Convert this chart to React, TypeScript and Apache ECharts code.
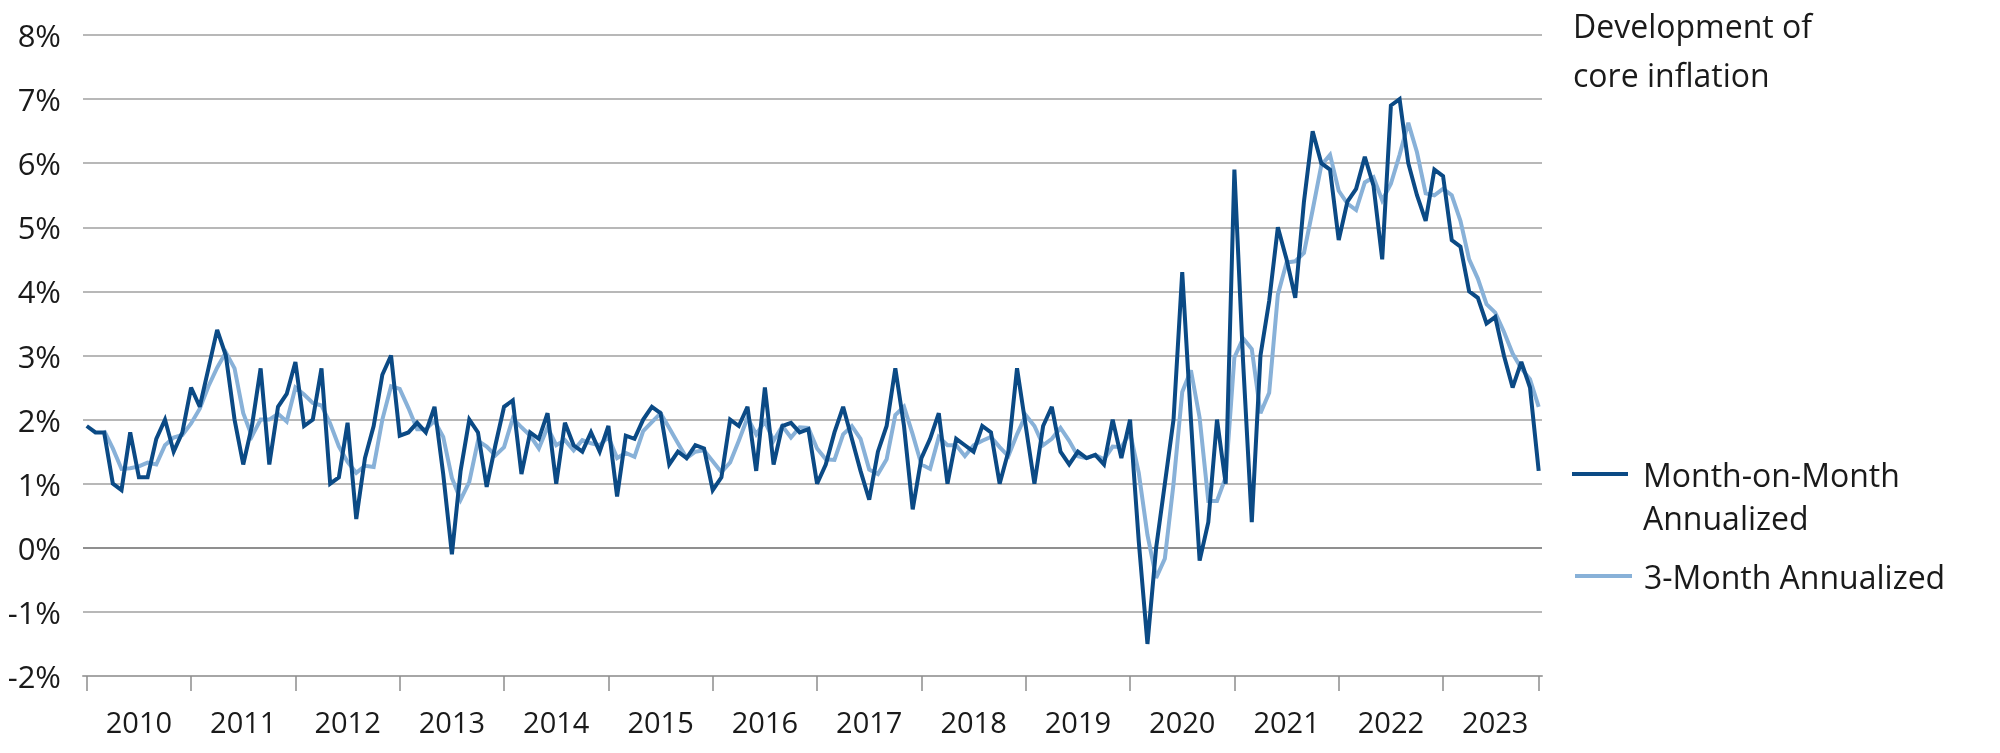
import React, { useEffect, useRef } from "react";
import * as echarts from "echarts";

const YEARS = ["2010", "2011", "2012", "2013", "2014", "2015", "2016", "2017", "2018", "2019", "2020", "2021", "2022", "2023"];

// Month-on-Month Annualized, Jan 2010 .. Dec 2023 (%)
const MOM = [
  1.9, 1.8, 1.8, 1.0, 0.9, 1.8, 1.1, 1.1, 1.7, 2.0, 1.5, 1.8,
  2.5, 2.2, 2.8, 3.4, 3.0, 2.0, 1.3, 1.9, 2.8, 1.3, 2.2, 2.4,
  2.9, 1.9, 2.0, 2.8, 1.0, 1.1, 1.95, 0.45, 1.4, 1.9, 2.7, 3.0,
  1.75, 1.8, 1.95, 1.8, 2.2, 1.15, -0.1, 1.2, 2.0, 1.8, 0.95, 1.6,
  2.2, 2.3, 1.15, 1.8, 1.7, 2.1, 1.0, 1.95, 1.6, 1.5, 1.8, 1.5,
  1.9, 0.8, 1.75, 1.7, 2.0, 2.2, 2.1, 1.3, 1.5, 1.4, 1.6, 1.55,
  0.9, 1.1, 2.0, 1.9, 2.2, 1.2, 2.5, 1.3, 1.9, 1.95, 1.8, 1.85,
  1.0, 1.3, 1.8, 2.2, 1.7, 1.2, 0.75, 1.5, 1.9, 2.8, 1.9, 0.6,
  1.4, 1.7, 2.1, 1.0, 1.7, 1.6, 1.5, 1.9, 1.8, 1.0, 1.5, 2.8,
  1.9, 1.0, 1.9, 2.2, 1.5, 1.3, 1.5, 1.4, 1.45, 1.3, 2.0, 1.4,
  2.0, 0.1, -1.5, 0.0, 1.0, 2.0, 4.3, 2.0, -0.2, 0.4, 2.0, 1.0,
  5.9, 2.9, 0.4, 3.0, 3.85, 5.0, 4.5, 3.9, 5.4, 6.5, 6.0, 5.9,
  4.8, 5.4, 5.6, 6.1, 5.65, 4.5, 6.9, 7.0, 6.0, 5.5, 5.1, 5.9,
  5.8, 4.8, 4.7, 4.0, 3.9, 3.5, 3.6, 3.0, 2.5, 2.9, 2.5, 1.2,
];

// 3-Month Annualized, Jan 2010 .. Dec 2023 (%)
const THREE_M = [
  null, null, 1.83, 1.55, 1.23, 1.24, 1.27, 1.33, 1.3, 1.6, 1.72, 1.76,
  1.94, 2.17, 2.52, 2.81, 3.05, 2.8, 2.1, 1.74, 2.0, 2.0, 2.09, 1.97,
  2.5, 2.39, 2.26, 2.22, 1.94, 1.58, 1.34, 1.17, 1.28, 1.26, 2.0, 2.52,
  2.48, 2.18, 1.85, 1.85, 1.98, 1.73, 1.09, 0.75, 1.03, 1.67, 1.58, 1.44,
  1.57, 2.02, 1.88, 1.75, 1.55, 1.88, 1.6, 1.68, 1.52, 1.68, 1.63, 1.6,
  1.73, 1.4, 1.48, 1.42, 1.82, 1.96, 2.1, 1.87, 1.63, 1.4, 1.5, 1.52,
  1.35, 1.18, 1.33, 1.67, 2.03, 1.77, 1.97, 1.67, 1.9, 1.72, 1.88, 1.87,
  1.55, 1.38, 1.37, 1.77, 1.9, 1.7, 1.22, 1.15, 1.38, 2.07, 2.2, 1.77,
  1.3, 1.23, 1.73, 1.6, 1.6, 1.43, 1.6, 1.67, 1.73, 1.57, 1.43, 1.77,
  2.07, 1.9, 1.6, 1.7, 1.87, 1.67, 1.43, 1.4, 1.45, 1.38, 1.58, 1.57,
  1.8, 1.17, 0.2, -0.47, -0.17, 1.0, 2.43, 2.77, 2.03, 0.73, 0.73, 1.1,
  2.97, 3.27, 3.1, 2.1, 2.42, 3.95, 4.45, 4.47, 4.6, 5.27, 5.97, 6.13,
  5.57, 5.37, 5.27, 5.7, 5.78, 5.42, 5.68, 6.13, 6.63, 6.17, 5.53, 5.5,
  5.6, 5.5, 5.1, 4.5, 4.2, 3.8, 3.67, 3.37, 3.03, 2.8, 2.63, 2.2,
];

const TITLE = "Development of\ncore inflation";
const LEGEND_MOM = "Month-on-Month\nAnnualized";
const LEGEND_3M = "3-Month Annualized";

const DARK = "#0b4a85";
const LIGHT = "#88b1d8";
const TEXT = "#1a1a1a";
const FONT = "'Open Sans', sans-serif";

export default function App() {
  const ref = useRef<HTMLDivElement>(null);

  useEffect(() => {
    const chart = echarts.init(ref.current as HTMLDivElement, null, { renderer: "svg" });
    const last = MOM.length - 1;
    const tickPos = YEARS.map((_, k) => k * 12).concat([last]);
    const labelPos = YEARS.map((_, k) => k * 12 + 6);
    const g = "#a0a0a0";
    const gridColors = [g, g, "#6a6a6a", g, g, g, g, g, g, g, g];

    chart.setOption({
      animation: false,
      grid: { left: 83, right: 458, top: 35, bottom: 77 },
      xAxis: {
        type: "value",
        min: -0.43,
        max: last + 0.38,
        axisLine: { show: true, onZero: false, lineStyle: { color: "#a6a6a6", width: 2 } },
        axisTick: {
          show: true,
          length: 15,
          customValues: tickPos,
          lineStyle: { color: "#8c8c8c", width: 1.5 },
        },
        axisLabel: {
          customValues: labelPos,
          formatter: (v: number) => YEARS[Math.floor(v / 12)],
          fontSize: 29,
          fontFamily: FONT,
          color: TEXT,
          margin: 31,
        },
        splitLine: { show: false },
      },
      yAxis: {
        type: "value",
        min: -2,
        max: 8,
        interval: 1,
        axisLine: { show: false },
        axisTick: { show: false },
        axisLabel: {
          formatter: "{value}%",
          fontSize: 31,
          fontFamily: FONT,
          color: TEXT,
          margin: 22,
          padding: [7, 0, 0, 0],
        },
        splitLine: { show: true, lineStyle: { color: gridColors, width: 1.5 } },
      },
      series: [
        {
          name: "3-Month Annualized",
          type: "line",
          data: THREE_M.map((v, i) => [i, v]),
          symbol: "none",
          showSymbol: false,
          connectNulls: false,
          lineStyle: { color: LIGHT, width: 4, join: "miter", miterLimit: 3 },
          z: 2,
        },
        {
          name: "Month-on-Month Annualized",
          type: "line",
          data: MOM.map((v, i) => [i, v]),
          symbol: "none",
          showSymbol: false,
          lineStyle: { color: DARK, width: 4, join: "miter", miterLimit: 3 },
          z: 3,
        },
      ],
      graphic: [
        {
          type: "text",
          x: 1573,
          y: 50,
          style: {
            text: TITLE,
            fontSize: 32,
            fontFamily: FONT,
            lineHeight: 49,
            fill: TEXT,
            align: "left",
            verticalAlign: "middle",
          },
        },
        {
          type: "line",
          shape: { x1: 1572, y1: 474, x2: 1628, y2: 474 },
          style: { stroke: DARK, lineWidth: 4 },
        },
        {
          type: "text",
          x: 1643,
          y: 496,
          style: {
            text: LEGEND_MOM,
            fontSize: 32,
            fontFamily: FONT,
            lineHeight: 43,
            fill: TEXT,
            align: "left",
            verticalAlign: "middle",
          },
        },
        {
          type: "line",
          shape: { x1: 1575, y1: 576, x2: 1632, y2: 576 },
          style: { stroke: LIGHT, lineWidth: 4 },
        },
        {
          type: "text",
          x: 1644,
          y: 576,
          style: {
            text: LEGEND_3M,
            fontSize: 32,
            fontFamily: FONT,
            lineHeight: 43,
            fill: TEXT,
            align: "left",
            verticalAlign: "middle",
          },
        },
      ],
    });

    return () => chart.dispose();
  }, []);

  return <div ref={ref} style={{ position: "fixed", left: 0, top: 0, width: 2000, height: 753 }} />;
}
